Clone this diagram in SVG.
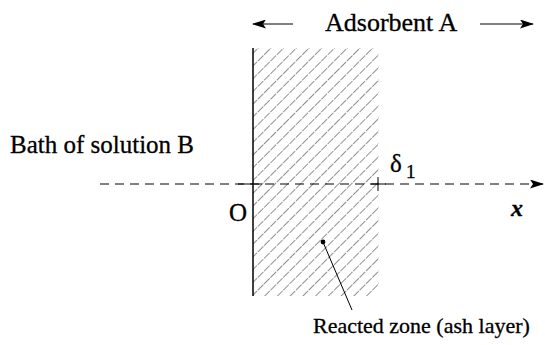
<svg xmlns="http://www.w3.org/2000/svg" width="545" height="345" viewBox="0 0 545 345">
<style>
text{font-family:"Liberation Serif","Times New Roman",serif;fill:#000;stroke:#000;stroke-width:0.3}
.ln{stroke:#000;fill:none}
</style>
<defs>
<marker id="ah" markerWidth="14" markerHeight="9" refX="13" refY="4.5" orient="auto" markerUnits="userSpaceOnUse">
<path d="M0,0 L14,4.5 L0,9 L3,4.5 Z" fill="#000"/>
</marker>
<pattern id="hatch" patternUnits="userSpaceOnUse" width="9" height="9" patternTransform="rotate(45)">
<line x1="0" y1="0" x2="0" y2="9" stroke="#222" stroke-width="1" stroke-dasharray="5,1"/>
</pattern>
</defs>
<rect width="545" height="345" fill="#fff"/>
<g id="reacted-zone">
<rect x="253" y="48" width="126" height="248" fill="url(#hatch)"/>
<line class="ln" x1="253" y1="48" x2="253" y2="296" stroke-width="1.5"/>
</g>
<g id="connectors">
<line class="ln" x1="100" y1="184" x2="543" y2="184" stroke-dasharray="9,6" marker-end="url(#ah)"/>
<line class="ln" x1="238" y1="184" x2="262" y2="184"/>
<line class="ln" x1="371" y1="184" x2="386" y2="184"/>
<line class="ln" x1="378" y1="177" x2="378" y2="191"/>
<line class="ln" x1="293" y1="24" x2="253" y2="24" marker-end="url(#ah)"/>
<line class="ln" x1="480" y1="24" x2="533" y2="24" marker-end="url(#ah)"/>
<circle cx="323" cy="242" r="2.4" fill="#000"/>
<line class="ln" x1="323" y1="242" x2="352" y2="310"/>
</g>
<g id="labels">
<text x="325" y="31" font-size="26">Adsorbent A</text>
<text x="10" y="153" font-size="25">Bath of solution B</text>
<text x="229" y="221" font-size="25">O</text>
<text x="390" y="172" font-size="25">δ</text>
<text x="406" y="178" font-size="19">1</text>
<text x="511" y="216" font-size="24" font-style="italic" font-weight="bold">x</text>
<text x="313" y="333" font-size="22">Reacted zone (ash layer)</text>
</g>
</svg>
